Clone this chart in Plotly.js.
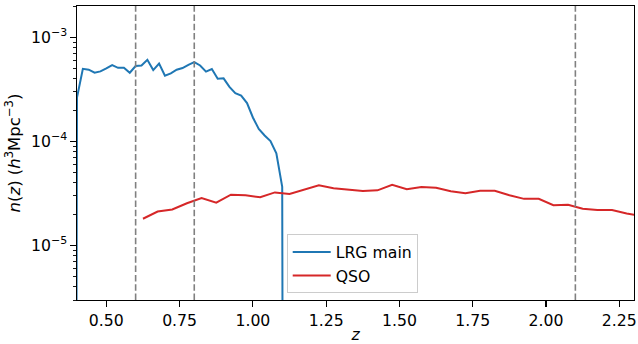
<!DOCTYPE html>
<html>
<head>
<meta charset="utf-8">
<script src="https://cdn.plot.ly/plotly-3.0.1.min.js"></script>
<style>
  html, body { margin: 0; padding: 0; background: #fff; }
  #chart { width: 638px; height: 344px; }
</style>
</head>
<body>
<div id="chart"></div>
<script>
// Redshift bins and number densities n(z) [h^3 Mpc^-3]
const lrgZ = [0.38, 0.40, 0.42, 0.44, 0.46, 0.48, 0.50, 0.52, 0.54, 0.56, 0.58,
              0.60, 0.62, 0.64, 0.66, 0.68, 0.70, 0.72, 0.74, 0.76, 0.78,
              0.80, 0.82, 0.84, 0.86, 0.88, 0.90, 0.92, 0.94, 0.96, 0.98,
              1.00, 1.02, 1.04, 1.06, 1.08, 1.10, 1.12];
const lrgN = [0, 2.64e-4, 4.99e-4, 4.89e-4, 4.57e-4, 4.71e-4, 5.03e-4, 5.41e-4, 5.10e-4, 5.10e-4, 4.57e-4,
              5.30e-4, 5.37e-4, 6.08e-4, 4.85e-4, 5.61e-4, 4.28e-4, 4.51e-4, 4.89e-4, 5.07e-4, 5.45e-4,
              5.78e-4, 5.37e-4, 4.68e-4, 4.96e-4, 4.01e-4, 4.04e-4, 3.34e-4, 2.91e-4, 2.76e-4, 2.34e-4,
              1.70e-4, 1.32e-4, 1.14e-4, 1.01e-4, 7.7e-5, 3.67e-5, 0];

const qsoZ = [0.625, 0.675, 0.725, 0.775, 0.825, 0.875, 0.925, 0.975, 1.025, 1.075,
              1.125, 1.175, 1.225, 1.275, 1.325, 1.375, 1.425, 1.475, 1.525, 1.575,
              1.625, 1.675, 1.725, 1.775, 1.825, 1.875, 1.925, 1.975, 2.025, 2.075,
              2.125, 2.175, 2.225, 2.275, 2.325];
const qsoN = [1.81e-5, 2.12e-5, 2.22e-5, 2.55e-5, 2.86e-5, 2.58e-5, 3.08e-5, 3.04e-5, 2.91e-5, 3.24e-5,
              3.13e-5, 3.47e-5, 3.79e-5, 3.55e-5, 3.44e-5, 3.34e-5, 3.39e-5, 3.84e-5, 3.47e-5, 3.65e-5,
              3.59e-5, 3.32e-5, 3.18e-5, 3.36e-5, 3.36e-5, 3.04e-5, 2.81e-5, 2.81e-5, 2.44e-5, 2.47e-5,
              2.26e-5, 2.19e-5, 2.19e-5, 2.03e-5, 1.93e-5];

// Redshift boundaries marked with dashed lines
const zEdges = [0.6, 0.8, 2.1];

// Axis ticks
const xTicks = [0.50, 0.75, 1.00, 1.25, 1.50, 1.75, 2.00, 2.25];
const yDecades = [-5, -4, -3];
const yTickText = ['10<sup>−5</sup>', '10<sup>−4</sup>', '10<sup>−3</sup>'];

// Empty bins are clipped to a tiny positive value on the log axis so the
// curve drops off the bottom of the plot instead of being cut.
const clipLog = v => (v > 0 ? v : 1e-30);

const yTickVals = yDecades.map(d => Math.pow(10, d));
const yMinor = [];
for (let d = -6; d <= -3; d++) {
  for (let m = 2; m <= 9; m++) yMinor.push(m * Math.pow(10, d));
}

const FONT = 'DejaVu Sans, sans-serif';
const FS = 15.7;

const traces = [
  {
    x: lrgZ, y: lrgN.map(clipLog), type: 'scatter', mode: 'lines', name: 'LRG main',
    line: { color: '#1f77b4', width: 2 }, cliponaxis: true
  },
  {
    x: qsoZ, y: qsoN.map(clipLog), type: 'scatter', mode: 'lines', name: 'QSO',
    line: { color: '#d62728', width: 2 }, cliponaxis: true
  }
];

const shapes = zEdges.map(z => ({
  type: 'line', xref: 'x', yref: 'paper', x0: z, x1: z, y0: 0, y1: 1,
  line: { color: '#808080', width: 1.6, dash: '6.5px,2.8px' }, layer: 'above'
}));

const layout = {
  width: 638, height: 344,
  margin: { l: 77, r: 4, t: 6, b: 44, pad: 0 },
  paper_bgcolor: '#ffffff', plot_bgcolor: '#ffffff',
  font: { family: FONT, size: FS, color: '#000000' },
  showlegend: true,
  legend: {
    x: 0.3765, y: 0.0224, xanchor: 'left', yanchor: 'bottom',
    bgcolor: 'rgba(255,255,255,0.8)', bordercolor: '#cccccc', borderwidth: 1,
    itemwidth: 38,
    font: { family: FONT, size: FS, color: '#000000' }
  },
  xaxis: {
    range: [0.4, 2.3], showgrid: false, zeroline: false,
    showline: true, mirror: true, linecolor: '#000000', linewidth: 1.2,
    ticks: 'outside', ticklen: 5.5, tickwidth: 1.2, tickcolor: '#000000',
    tickvals: xTicks, ticktext: xTicks.map(v => v.toFixed(2)),
    tickfont: { family: FONT, size: FS, color: '#000000' },
    title: { text: '<i>z</i>', font: { family: FONT, size: FS, color: '#000000' }, standoff: 4 }
  },
  yaxis: {
    type: 'log', range: [Math.log10(3e-6), Math.log10(2e-3)],
    showgrid: false, zeroline: false,
    showline: true, mirror: true, linecolor: '#000000', linewidth: 1.2,
    ticks: 'outside', ticklen: 5.5, tickwidth: 1.2, tickcolor: '#000000',
    tickvals: yTickVals, ticktext: yTickText,
    tickfont: { family: FONT, size: FS, color: '#000000' },
    minor: { tickvals: yMinor, ticks: 'outside', ticklen: 3.1, tickwidth: 0.9, tickcolor: '#000000', showgrid: false },
    title: {
      text: '<i>n</i>(<i>z</i>) (<i>h</i><sup>3</sup>Mpc<sup>−3</sup>)',
      font: { family: FONT, size: 16.5, color: '#000000' }, standoff: 6
    }
  },
  shapes: shapes
};

Plotly.newPlot('chart', traces, layout, { displayModeBar: false, staticPlot: true });
</script>
</body>
</html>
